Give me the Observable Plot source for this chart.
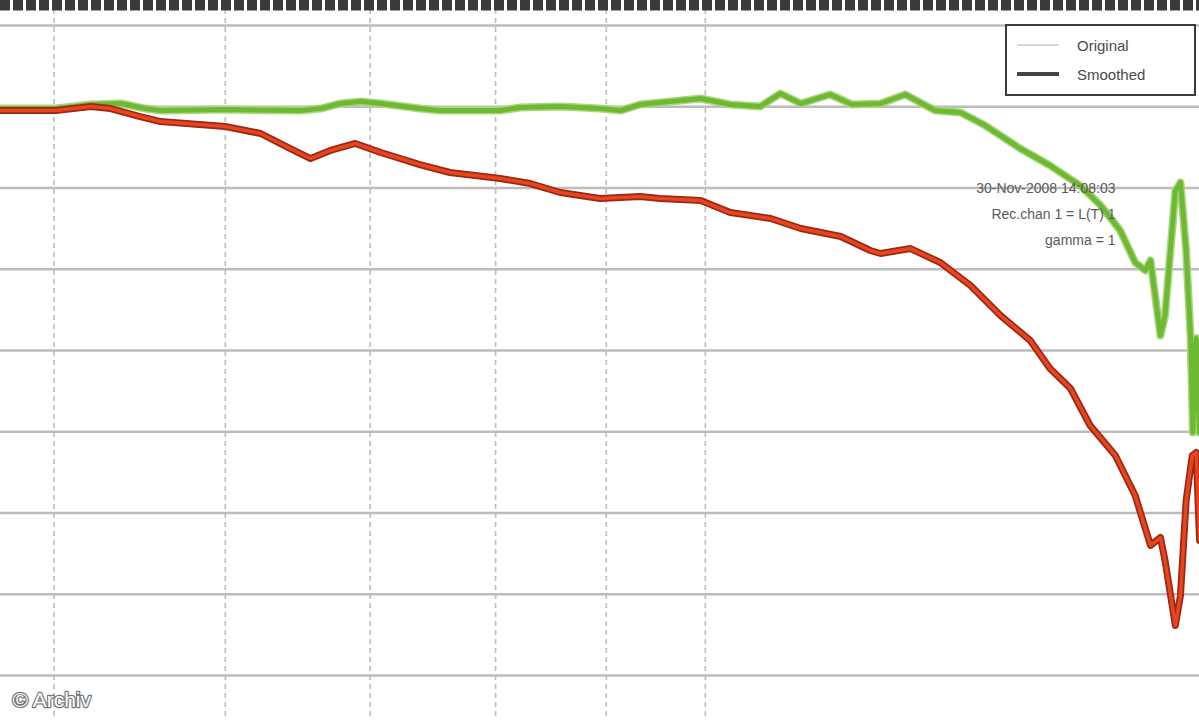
<!DOCTYPE html>
<html>
<head>
<meta charset="utf-8">
<script src="https://cdn.jsdelivr.net/npm/d3@7"></script>
<script src="https://cdn.jsdelivr.net/npm/@observablehq/plot@0.6"></script>
<style>
  html, body { margin: 0; padding: 0; background: #fff; }
  #wrap { position: relative; width: 1199px; height: 720px; overflow: hidden; font-family: "Liberation Sans", Arial, sans-serif; }
  #legend { position: absolute; left: 1005px; top: 24px; width: 187px; height: 68px; border: 2.5px solid #3a3a3a; background: #fff; box-sizing: content-box; }
  .lg { position: absolute; left: 10px; height: 20px; display: flex; align-items: center; font-size: 15px; color: #4a4a4a; }
  .lg .sw { width: 42px; margin-right: 18px; }
</style>
</head>
<body>
<div id="wrap">
  <div id="chart"></div>
  <div id="legend">
    <div class="lg" style="top:9px"><span class="sw" style="border-top:2px solid #d8d8d8"></span><span>Original</span></div>
    <div class="lg" style="top:38px"><span class="sw" style="border-top:4px solid #444"></span><span>Smoothed</span></div>
  </div>
</div>
<script>
// Frequency axis (kHz, log) and level axis (dB)
const xDomain = [4.7236, 16.919];
const yDomain = [-75.54, 13.08];
const xGridKHz = [5, 6, 7, 8, 9, 10];
const yGridDb = [10, 0, -10, -20, -30, -40, -50, -60, -70];

// Green curve ("Original")
const originalFreq = [4.72, 5.01, 5.20, 5.37, 5.51, 5.60, 6.00, 6.50, 6.64, 6.78, 6.93, 7.08, 7.38, 7.54, 8.04, 8.21, 8.57, 8.94, 9.14, 9.33, 9.74, 9.95, 10.27, 10.60, 10.83, 11.07, 11.42, 11.69, 12.05, 12.37, 12.77, 13.12, 13.47, 13.98, 14.43, 14.90, 15.23, 15.55, 15.80, 15.97, 16.06, 16.23, 16.31, 16.49, 16.58, 16.68, 16.76, 16.80, 16.86, 16.92];
const originalDb = [-0.22, -0.22, 0.28, 0.40, -0.22, -0.46, -0.34, -0.46, -0.22, 0.40, 0.65, 0.40, -0.22, -0.46, -0.46, -0.09, 0.03, -0.22, -0.46, 0.28, 0.77, 1.02, 0.28, 0.03, 1.63, 0.40, 1.51, 0.28, 0.40, 1.51, -0.46, -0.71, -2.31, -5.14, -7.23, -9.69, -12.15, -15.23, -19.17, -20.15, -18.92, -28.15, -25.69, -10.31, -9.32, -17.69, -28.5, -40.09, -28.5, -40.09];

// Red curve ("Smoothed")
const smoothedFreq = [4.72, 5.01, 5.20, 5.31, 5.48, 5.60, 6.00, 6.23, 6.43, 6.57, 6.71, 6.89, 7.08, 7.38, 7.62, 8.04, 8.30, 8.57, 8.94, 9.33, 9.53, 9.95, 10.27, 10.72, 11.07, 11.55, 11.92, 12.05, 12.44, 12.84, 13.26, 13.69, 14.13, 14.43, 14.75, 15.06, 15.47, 15.80, 16.06, 16.23, 16.31, 16.49, 16.58, 16.68, 16.79, 16.86, 16.92];
const smoothedDb = [-0.46, -0.46, 0.03, -0.22, -1.20, -1.82, -2.43, -3.29, -5.14, -6.37, -5.38, -4.52, -5.63, -7.11, -8.09, -8.83, -9.45, -10.55, -11.29, -11.05, -11.29, -11.54, -13.02, -13.75, -14.98, -15.97, -17.69, -18.06, -17.45, -19.17, -22.0, -25.69, -28.77, -32.22, -34.68, -39.23, -42.92, -47.85, -54.0, -53.02, -55.85, -63.85, -60.15, -48.46, -42.92, -42.55, -53.38];

const annotationLines = ["30-Nov-2008 14:08:03", "Rec.chan 1 = L(T) 1", "gamma = 1"];
const credit = "© Archiv";

const original = originalFreq.map((f, i) => ({f, db: originalDb[i]}));
const smoothed = smoothedFreq.map((f, i) => ({f, db: smoothedDb[i]}));

const chart = Plot.plot({
  width: 1199,
  height: 720,
  margin: 0,
  x: {type: "log", domain: xDomain, axis: null},
  y: {domain: yDomain, axis: null},
  style: {background: "#fff"},
  marks: [
    Plot.ruleX(xGridKHz, {stroke: "#bdbdbd", strokeWidth: 1.6, strokeDasharray: "5,4"}),
    Plot.ruleY(yGridDb, {stroke: "#bcbcbc", strokeWidth: 2.6}),
    Plot.ruleY([yDomain[1]], {stroke: "#3a3a3a", strokeWidth: 20, strokeDasharray: "10,3"}),
    Plot.line(original, {x: "f", y: "db", stroke: "#a9d77e", strokeWidth: 8, curve: "linear"}),
    Plot.line(original, {x: "f", y: "db", stroke: "#6fb834", strokeWidth: 5, curve: "linear"}),
    Plot.line(smoothed, {x: "f", y: "db", stroke: "#9a2914", strokeWidth: 7, curve: "linear"}),
    Plot.line(smoothed, {x: "f", y: "db", stroke: "#e8441f", strokeWidth: 3.5, curve: "linear"}),
    Plot.text([annotationLines.join("\n")], {
      frameAnchor: "top-right", dx: -84, dy: 174, textAnchor: "end", lineAnchor: "top",
      lineHeight: 1.85, fontSize: 14, fill: "#5a5a5a", fontFamily: "Liberation Sans, Arial, sans-serif"
    }),
    Plot.text([credit], {
      frameAnchor: "bottom-left", dx: 12, dy: -14, textAnchor: "start",
      fontSize: 21, fill: "#fff", stroke: "#777", strokeWidth: 2.5, paintOrder: "stroke",
      fontFamily: "Liberation Sans, Arial, sans-serif"
    })
  ]
});
document.getElementById("chart").appendChild(chart);
</script>
</body>
</html>
